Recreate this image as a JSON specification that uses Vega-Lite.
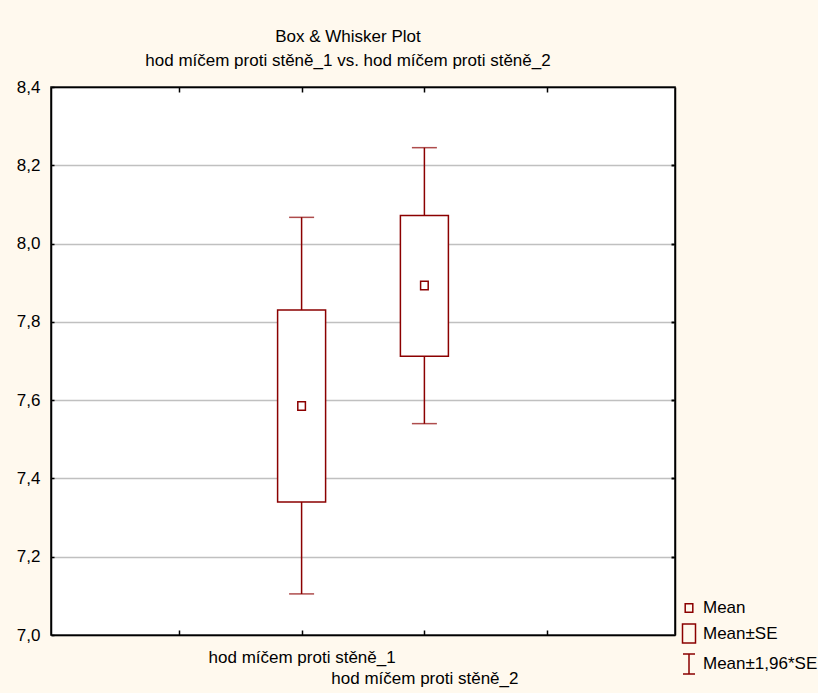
{
  "$schema": "https://vega.github.io/schema/vega-lite/v6.json",
  "width": 624,
  "height": 548,
  "autosize": "none",
  "padding": {"left": 51, "top": 87, "right": 143, "bottom": 58},
  "background": "#FFF9EE",
  "view": {"fill": "white", "stroke": "black", "strokeWidth": 1.5},
  "title": {
    "text": ["Box & Whisker Plot", "hod míčem proti stěně_1 vs. hod míčem proti stěně_2"],
    "font": "Liberation Sans",
    "fontSize": 17,
    "fontWeight": "normal",
    "color": "black",
    "lineHeight": 24,
    "anchor": "middle",
    "offset": 8,
    "dx": -15
  },
  "data": {
    "values": [
      {"var": "hod míčem proti stěně_1", "x": 2, "mean": 7.585, "se_lo": 7.34, "se_hi": 7.83, "ci_lo": 7.105, "ci_hi": 8.067, "lg": "Mean"},
      {"var": "hod míčem proti stěně_2", "x": 3, "mean": 7.893, "se_lo": 7.712, "se_hi": 8.072, "ci_lo": 7.54, "ci_hi": 8.245, "lg": "Mean"}
    ]
  },
  "resolve": {"axis": {"x": "independent", "y": "independent"}},
  "layer": [
    {
      "mark": {"type": "rule", "color": "#8B0000", "strokeWidth": 1.5},
      "encoding": {
        "x": {
          "field": "x", "type": "quantitative",
          "scale": {"domain": [0, 5], "nice": false, "zero": false},
          "axis": {
            "orient": "bottom", "title": null, "values": [1, 2, 3, 4],
            "tickSize": -5, "tickColor": "black", "tickWidth": 1.5,
            "domainColor": "black", "domainWidth": 1.5, "grid": false,
            "labelExpr": "datum.value == 2 ? 'hod míčem proti stěně_1' : (datum.value == 3 ? ['', 'hod míčem proti stěně_2'] : '')",
            "labelFont": "Liberation Sans", "labelFontSize": 17, "labelColor": "black",
            "labelLineHeight": 21, "labelPadding": 19, "labelBaseline": "top",
            "labelLimit": 0, "labelOverlap": false
          }
        },
        "y": {
          "field": "ci_lo", "type": "quantitative",
          "scale": {"domain": [7, 8.4], "nice": false, "zero": false},
          "axis": {
            "orient": "left", "title": null, "values": [7, 7.2, 7.4, 7.6, 7.8, 8, 8.2, 8.4],
            "tickSize": -3, "tickColor": "black", "tickWidth": 1.5,
            "domainColor": "black", "domainWidth": 1.5,
            "grid": true, "gridColor": "#C0C0C0", "gridWidth": 1.5,
            "labelExpr": "replace(format(datum.value, '.1f'), '.', ',')",
            "labelFont": "Liberation Sans", "labelFontSize": 17, "labelColor": "black",
            "labelPadding": 14
          }
        },
        "y2": {"field": "ci_hi"}
      }
    },
    {
      "mark": {"type": "tick", "orient": "horizontal", "color": "#8B0000", "size": 25, "thickness": 1.5},
      "encoding": {
        "x": {
          "field": "x", "type": "quantitative",
          "axis": {
            "orient": "top", "title": null, "values": [1, 2, 3, 4], "labels": false,
            "tickSize": -5, "tickColor": "black", "tickWidth": 1.5,
            "domainColor": "black", "domainWidth": 1.5, "grid": false
          }
        },
        "y": {
          "field": "ci_lo", "type": "quantitative",
          "axis": {
            "orient": "right", "title": null, "values": [7.2, 7.4, 7.6, 7.8, 8, 8.2], "labels": false,
            "tickSize": -4, "tickColor": "black", "tickWidth": 2,
            "domainColor": "black", "domainWidth": 1.5, "grid": false
          }
        }
      }
    },
    {
      "mark": {"type": "tick", "orient": "horizontal", "color": "#8B0000", "size": 25, "thickness": 1.5},
      "encoding": {
        "x": {"field": "x", "type": "quantitative", "axis": null},
        "y": {"field": "ci_hi", "type": "quantitative", "axis": null}
      }
    },
    {
      "mark": {"type": "bar", "fill": "white", "stroke": "#8B0000", "strokeWidth": 1.5, "size": 48},
      "encoding": {
        "x": {"field": "x", "type": "quantitative", "axis": null},
        "y": {"field": "se_lo", "type": "quantitative", "axis": null},
        "y2": {"field": "se_hi"}
      }
    },
    {
      "mark": {"type": "point", "filled": false, "stroke": "#8B0000", "strokeWidth": 1.5, "size": 400, "opacity": 1},
      "encoding": {
        "x": {"field": "x", "type": "quantitative", "axis": null},
        "y": {"field": "mean", "type": "quantitative", "axis": null},
        "shape": {
          "field": "lg", "type": "nominal",
          "scale": {
            "domain": ["Mean", "Mean±SE", "Mean±1,96*SE"],
            "range": ["M-0.38,-0.42H0.38V0.42H-0.38Z", "M-0.65,-0.95H0.65V0.95H-0.65Z", "M-0.6,-1H0.6M0,-1V1M-0.6,1H0.6"]
          },
          "legend": {
            "title": null, "orient": "none", "legendX": 627, "legendY": 510,
            "padding": 0, "symbolSize": 400, "symbolStrokeColor": "#8B0000",
            "symbolStrokeWidth": 1.5, "symbolFillColor": "transparent",
            "symbolOpacity": 1,
            "labelFont": "Liberation Sans", "labelFontSize": 17, "labelColor": "black",
            "labelOffset": 3, "rowPadding": 4.5
          }
        }
      }
    }
  ]
}
